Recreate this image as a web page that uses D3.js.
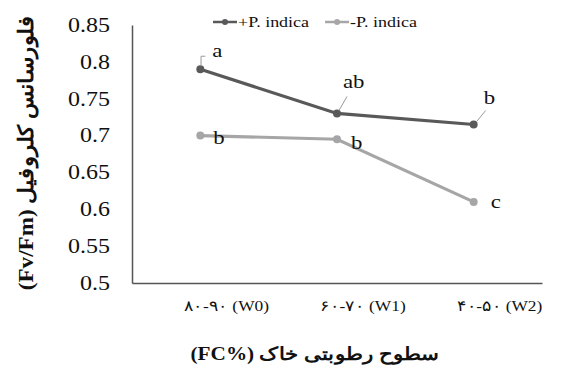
<!DOCTYPE html>
<html>
<head>
<meta charset="utf-8">
<script src="https://cdn.jsdelivr.net/npm/d3@7"></script>
<style>
  body { margin: 0; background: #fff; }
</style>
</head>
<body>
<div id="chart"></div>
<script>
// Données
const categories = ["W0", "W1", "W2"];
const tickLabels = ["۸۰-۹۰ (W0)", "۶۰-۷۰ (W1)", "۴۰-۵۰ (W2)"];
const seriesNames = ["+P. indica", "-P. indica"];
const plusValues = [0.79, 0.73, 0.715];
const minusValues = [0.70, 0.695, 0.61];
const plusLetters = ["a", "ab", "b"];
const minusLetters = ["b", "b", "c"];
const yTicks = [0.5, 0.55, 0.6, 0.65, 0.7, 0.75, 0.8, 0.85];

// Style
const FONT = "Liberation Serif";
const SX = 1.2; // le texte de l'original est étiré horizontalement
const colors = ["#595959", "#a6a6a6"];
const W = 565, H = 371;
const margin = { top: 25, right: 23, bottom: 88, left: 132 };
const width = W - margin.left - margin.right;
const height = H - margin.top - margin.bottom;

const svg = d3.select("#chart").append("svg")
  .attr("width", W).attr("height", H);
const g = svg.append("g")
  .attr("transform", `translate(${margin.left},${margin.top})`);

// Texte étiré
function addText(parent, x, y, str, size, opts = {}) {
  return parent.append("text")
    .attr("transform", `translate(${x},${y}) scale(${opts.sx || SX},1)`)
    .attr("text-anchor", opts.anchor || "start")
    .attr("font-family", FONT)
    .attr("font-size", size)
    .attr("font-weight", opts.bold ? "bold" : "normal")
    .attr("fill", "#111")
    .text(str);
}

// Échelles
const x = d3.scaleBand().domain(categories).range([0, width]);
const y = d3.scaleLinear().domain([0.5, 0.85]).range([height, 0]);
const cx = c => x(c) + x.bandwidth() / 2;

// Axe Y
const yAxis = g.append("g")
  .call(d3.axisLeft(y).tickValues(yTicks).tickSize(0)
    .tickFormat(d => String(+d.toFixed(2))));
yAxis.select(".domain").attr("stroke", "#555").attr("stroke-width", 1.5);
yAxis.selectAll("text")
  .attr("x", 0)
  .attr("transform", `translate(-22,0) scale(${SX},1)`)
  .attr("fill", "#111").attr("font-family", FONT).attr("font-size", 20);

// Axe X
const xAxis = g.append("g")
  .attr("transform", `translate(0,${height})`)
  .call(d3.axisBottom(x).tickSize(0)
    .tickFormat((d, i) => tickLabels[i]));
xAxis.select(".domain").attr("stroke", "#555").attr("stroke-width", 1.5);
xAxis.selectAll("text")
  .attr("y", 0)
  .attr("transform", `translate(26,17) scale(1.16,1)`)
  .attr("fill", "#111").attr("font-family", FONT).attr("font-size", 15);

// Titres
svg.append("text")
  .attr("transform", `translate(33,${margin.top + height / 2 - 1}) rotate(-90) scale(1.1,1)`)
  .attr("text-anchor", "middle").attr("font-family", FONT)
  .attr("font-size", 21).attr("font-weight", "bold").attr("fill", "#111")
  .text("(Fv/Fm) فلورسانس کلروفیل");

addText(svg, 315, 360, "(FC%) سطوح رطوبتی خاک", 18, { anchor: "middle", bold: true, sx: 1.18 });

// Lignes
const line = d3.line().x((d, i) => cx(categories[i])).y(d => y(d));
[plusValues, minusValues].forEach((vals, k) => {
  g.append("path").datum(vals)
    .attr("d", line).attr("fill", "none")
    .attr("stroke", colors[k]).attr("stroke-width", 3.2);
  g.selectAll(null).data(vals).enter().append("circle")
    .attr("cx", (d, i) => cx(categories[i])).attr("cy", d => y(d))
    .attr("r", 4).attr("fill", colors[k]);
});

// Lettres de signification (décalages en px par rapport au point)
const plusLeaders = [
  [[0.7, -3], [0.7, -13], [5, -13]],
  [[2, -3], [10, -17]],
  [[3, -3], [12, -14]]
];
const plusOffsets = [[12, -12], [6, -25], [10, -21]];
const minusOffsets = [[13, 8], [14, 10], [17, 6]];

plusValues.forEach((v, i) => {
  const px = cx(categories[i]), py = y(v);
  g.append("path")
    .attr("d", d3.line()(plusLeaders[i].map(p => [px + p[0], py + p[1]])))
    .attr("fill", "none").attr("stroke", "#999").attr("stroke-width", 1);
  addText(g, px + plusOffsets[i][0], py + plusOffsets[i][1], plusLetters[i], 19);
});
minusValues.forEach((v, i) => {
  const px = cx(categories[i]), py = y(v);
  addText(g, px + minusOffsets[i][0], py + minusOffsets[i][1], minusLetters[i], 19);
});

// Légende
const legend = svg.append("g").attr("transform", "translate(213,22)");
let lx = 0;
seriesNames.forEach((name, k) => {
  const item = legend.append("g").attr("transform", `translate(${lx},0)`);
  item.append("line").attr("x1", 0).attr("x2", 24).attr("y1", 0).attr("y2", 0)
    .attr("stroke", colors[k]).attr("stroke-width", 2.5);
  item.append("circle").attr("cx", 12).attr("cy", 0).attr("r", 3).attr("fill", colors[k]);
  const t = addText(item, 25, 5, name, 15);
  lx += 25 + t.node().getComputedTextLength() * SX + 16;
});
</script>
</body>
</html>
